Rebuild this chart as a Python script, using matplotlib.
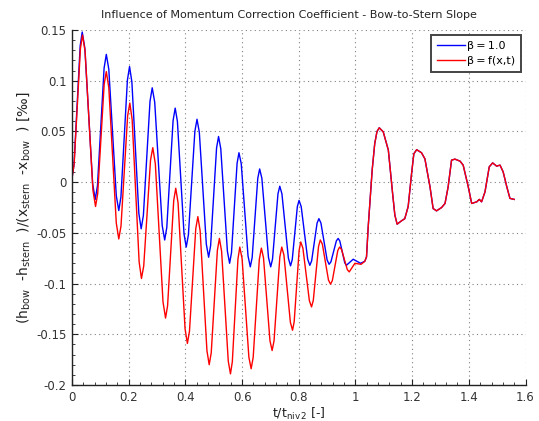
import matplotlib
matplotlib.use("Agg")
import matplotlib.pyplot as plt
from matplotlib.ticker import AutoMinorLocator

# Oscillating phase, constant momentum coefficient (beta = 1.0)
t_const = [0.000, 0.0072, 0.0288, 0.036, 0.0452, 0.0728, 0.082, 0.0898, 0.1132, 0.121,
           0.1298, 0.1562, 0.165, 0.1726, 0.1954, 0.203, 0.2112, 0.2358, 0.244, 0.2518,
           0.2752, 0.283, 0.2918, 0.3182, 0.327, 0.3344, 0.3566, 0.364, 0.3718, 0.3952,
           0.403, 0.4106, 0.4334, 0.441, 0.4492, 0.4738, 0.482, 0.489, 0.510, 0.517,
           0.5248, 0.5482, 0.556, 0.5626, 0.5824, 0.589, 0.597, 0.621, 0.629, 0.6356,
           0.6554, 0.662, 0.6698, 0.6932, 0.701, 0.7074, 0.7266, 0.733, 0.7406, 0.7634,
           0.771, 0.777, 0.795, 0.801, 0.8086, 0.8314, 0.839, 0.8454, 0.8646, 0.871,
           0.8782, 0.900, 0.907, 0.9134, 0.9326, 0.939, 0.9448, 0.9622, 0.968, 0.992,
           1.018]
slope_const = [0.004, 0.0177, 0.1343, 0.148, 0.1323, -0.0013, -0.017, -0.0034, 0.1124, 0.126,
               0.1114, -0.0134, -0.028, -0.0145, 0.1005, 0.114, 0.0988, -0.0308, -0.046, -0.0328,
               0.0798, 0.093, 0.0788, -0.0428, -0.057, -0.0447, 0.0607, 0.073, 0.0600, -0.0510,
               -0.064, -0.0520, 0.0500, 0.062, 0.0491, -0.0611, -0.074, -0.0627, 0.0337, 0.045,
               0.0331, -0.0681, -0.080, -0.0696, 0.0186, 0.029, 0.0183, -0.0728, -0.0835, -0.0743,
               0.0038, 0.013, 0.0038, -0.0743, -0.0835, -0.0759, -0.0116, -0.004, -0.0115, -0.0750,
               -0.0825, -0.0764, -0.0241, -0.018, -0.0241, -0.0759, -0.082, -0.0776, -0.0404, -0.036,
               -0.0403, -0.0767, -0.081, -0.0786, -0.0579, -0.0555, -0.058, -0.0795, -0.082, -0.076,
               -0.080]

# Oscillating phase, variable momentum coefficient (beta = f(x,t))
t_var = [0.000, 0.0074, 0.0296, 0.037, 0.0462, 0.0738, 0.083, 0.0906, 0.1134, 0.121,
         0.1298, 0.1562, 0.165, 0.1728, 0.1962, 0.204, 0.2122, 0.2368, 0.245, 0.253,
         0.277, 0.285, 0.294, 0.321, 0.330, 0.3372, 0.3588, 0.366, 0.3742, 0.3988,
         0.407, 0.4144, 0.4366, 0.444, 0.452, 0.476, 0.484, 0.4912, 0.5128, 0.520,
         0.5278, 0.5512, 0.559, 0.5656, 0.5854, 0.592, 0.600, 0.624, 0.632, 0.6392,
         0.6608, 0.668, 0.6756, 0.6984, 0.706, 0.7128, 0.7332, 0.740, 0.7476, 0.7704,
         0.778, 0.7838, 0.8012, 0.807, 0.8146, 0.8374, 0.845, 0.8512, 0.8698, 0.876,
         0.8832, 0.9048, 0.912, 0.9184, 0.9376, 0.944, 0.9508, 0.9712, 0.978, 0.998,
         1.020]
slope_var = [0.004, 0.0174, 0.1316, 0.145, 0.1289, -0.0079, -0.024, -0.0114, 0.0964, 0.109,
             0.0933, -0.0403, -0.056, -0.0433, 0.0653, 0.078, 0.0616, -0.0786, -0.095, -0.0827,
             0.0217, 0.034, 0.018, -0.118, -0.134, -0.1218, -0.0182, -0.006, -0.0205, -0.1445,
             -0.159, -0.1471, -0.0459, -0.034, -0.0479, -0.1661, -0.180, -0.1682, -0.0673, -0.0555,
             -0.0682, -0.1763, -0.189, -0.1771, -0.0759, -0.064, -0.0754, -0.1726, -0.184, -0.1727,
             -0.0763, -0.065, -0.0746, -0.1564, -0.166, -0.1563, -0.0737, -0.064, -0.0718, -0.1382,
             -0.146, -0.1377, -0.0673, -0.059, -0.0651, -0.1169, -0.123, -0.1167, -0.0633, -0.057,
             -0.0611, -0.0965, -0.1006, -0.0971, -0.0675, -0.064, -0.0663, -0.0862, -0.0885, -0.080,
             -0.081]

# Later phase where both runs coincide
t_tail = [1.033, 1.039, 1.045, 1.059, 1.068, 1.076, 1.084, 1.098, 1.116, 1.131,
          1.139, 1.147, 1.163, 1.174, 1.186, 1.198, 1.206, 1.216, 1.233, 1.245,
          1.263, 1.274, 1.286, 1.304, 1.316, 1.327, 1.339, 1.351, 1.369, 1.380,
          1.398, 1.410, 1.428, 1.437, 1.445, 1.457, 1.472, 1.484, 1.498, 1.510,
          1.521, 1.534, 1.545, 1.560]
slope_tail = [-0.078, -0.0737, -0.044, 0.012, 0.038, 0.050, 0.0536, 0.0496, 0.0316, -0.011,
              -0.0325, -0.0414, -0.038, -0.036, -0.024, 0.0086, 0.028, 0.032, 0.029, 0.023,
              -0.0046, -0.026, -0.0283, -0.025, -0.021, -0.0046, 0.0217, 0.0227, 0.0207, 0.0168,
              -0.0046, -0.021, -0.0194, -0.017, -0.0194, -0.0096, 0.0151, 0.019, 0.0158, 0.0168,
              0.0102, -0.0046, -0.016, -0.017]

labels = ["\u03b2\u2009=\u20091.0", "\u03b2\u2009=\u2009f(x,t)"]

fig = plt.figure(figsize=(5.39, 4.21), dpi=100)
ax = fig.add_axes([0.1336, 0.0855, 0.8414, 0.8432])

ax.plot(t_const + t_tail, slope_const + slope_tail, color="#0000ff", lw=1.0, label=labels[0])
ax.plot(t_var + t_tail, slope_var + slope_tail, color="#ff0000", lw=1.0, label=labels[1])

ax.set_xlim(0, 1.6)
ax.set_ylim(-0.2, 0.15)
ax.set_xticks([0, 0.2, 0.4, 0.6, 0.8, 1.0, 1.2, 1.4, 1.6])
ax.set_xticklabels(["0", "0.2", "0.4", "0.6", "0.8", "1", "1.2", "1.4", "1.6"])
ax.set_yticks([-0.2, -0.15, -0.1, -0.05, 0, 0.05, 0.1, 0.15])
ax.set_yticklabels(["-0.2", "-0.15", "-0.1", "-0.05", "0", "0.05", "0.1", "0.15"])
ax.xaxis.set_minor_locator(AutoMinorLocator(5))
ax.yaxis.set_minor_locator(AutoMinorLocator(5))

ax.grid(True, which="major", linestyle=(0, (1, 3)), color="#808080", lw=0.8)
for s in ("top", "right"):
    ax.spines[s].set_visible(False)
for s in ("left", "bottom"):
    ax.spines[s].set_color("#222222")
    ax.spines[s].set_linewidth(1.0)
ax.tick_params(which="major", direction="in", length=4, width=0.8, colors="#222222",
               labelcolor="#333333", labelsize=8.5, pad=4)
ax.tick_params(which="minor", direction="in", length=2, width=0.6, colors="#222222")

ax.set_title("Influence of Momentum Correction Coefficient - Bow-to-Stern Slope",
             fontsize=8, color="#222222", pad=9, x=0.478)
ax.set_xlabel(r"t/t$_\mathregular{niv\,2}$ [-]", fontsize=9, color="#222222", labelpad=2)
ax.set_ylabel(r"(h$_\mathregular{bow}$  -h$_\mathregular{stern}$  )/(x$_\mathregular{stern}$  -x$_\mathregular{bow}$  ) [‰]",
              fontsize=10, color="#222222", labelpad=3)

leg = ax.legend(loc="upper right", fontsize=8, frameon=True, fancybox=False,
                handlelength=2.5, handletextpad=0.2, borderpad=0.5, labelspacing=0.5,
                borderaxespad=0.0, bbox_to_anchor=(0.989, 0.986))
leg.get_frame().set_edgecolor("#444444")
leg.get_frame().set_linewidth(1.4)
leg.get_frame().set_alpha(1.0)

fig.savefig("out.png", dpi=100)
